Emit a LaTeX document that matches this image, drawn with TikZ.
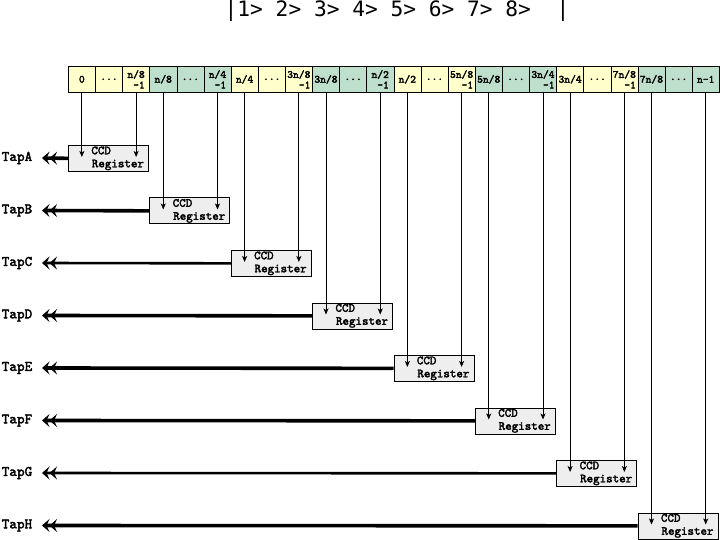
\documentclass[tikz,border=0pt]{standalone}
\usepackage{fontspec}
\newfontfamily\dmono{DejaVu Sans Mono}
\newfontfamily\lmb{lmmono10-regular}[Extension=.otf,FakeBold=2.5]
\usetikzlibrary{arrows.meta,calc}
\definecolor{cy}{HTML}{FFFFCC}
\definecolor{cg}{HTML}{BEDFCC}
\definecolor{boxgray}{HTML}{EEEEEE}
\begin{document}
\begin{tikzpicture}[x=1pt,y=-1pt,
  cell/.style={draw=black,line width=0.6pt,minimum width=27.125pt,minimum height=26pt,
    inner sep=0pt,anchor=north west,align=right,
    font=\lmb\fontsize{11}{10.5}\selectfont},
  reg/.style={draw=black,line width=0.7pt,fill=boxgray,minimum width=80pt,minimum height=26pt,
    inner xsep=0pt,inner ysep=0pt,text width=80pt,align=left,anchor=north west,
    font=\lmb\fontsize{12.4}{13}\selectfont},
  taplabel/.style={font=\lmb\fontsize{14.5}{15}\selectfont,inner sep=0pt},
  feed/.style={line width=0.8pt,-{Stealth[length=6pt,width=5pt,inset=1.5pt]}},
  tapline/.style={-{Stealth[length=7.5pt,width=13pt,inset=3pt]Stealth[length=7.5pt,width=13pt,inset=3pt]}},
  titlestyle/.style={font=\dmono\fontsize{21.2}{24}\selectfont,inner sep=0pt}
]
\useasboundingbox (0,0) rectangle (720,540);
\node[titlestyle] (title) at (397,11) {|1>~2>~3>~4>~5>~6>~7>~8>~~|};
% cells
\node[cell,fill=cy] (c0) at (68,66) {0};
\node[cell,fill=cy] (c1) at (95.125,66) {...};
\node[cell,fill=cy] (c2) at (122.25,66) {n/8\\-1};
\node[cell,fill=cg] (c3) at (149.375,66) {n/8};
\node[cell,fill=cg] (c4) at (176.5,66) {...};
\node[cell,fill=cg] (c5) at (203.625,66) {n/4\\-1};
\node[cell,fill=cy] (c6) at (230.75,66) {n/4};
\node[cell,fill=cy] (c7) at (257.875,66) {...};
\node[cell,fill=cy] (c8) at (285,66) {3n/8\\-1};
\node[cell,fill=cg] (c9) at (312.125,66) {3n/8};
\node[cell,fill=cg] (c10) at (339.25,66) {...};
\node[cell,fill=cg] (c11) at (366.375,66) {n/2\\-1};
\node[cell,fill=cy] (c12) at (393.5,66) {n/2};
\node[cell,fill=cy] (c13) at (420.625,66) {...};
\node[cell,fill=cy] (c14) at (447.75,66) {5n/8\\-1};
\node[cell,fill=cg] (c15) at (474.875,66) {5n/8};
\node[cell,fill=cg] (c16) at (502,66) {...};
\node[cell,fill=cg] (c17) at (529.125,66) {3n/4\\-1};
\node[cell,fill=cy] (c18) at (556.25,66) {3n/4};
\node[cell,fill=cy] (c19) at (583.375,66) {...};
\node[cell,fill=cy] (c20) at (610.5,66) {7n/8\\-1};
\node[cell,fill=cg] (c21) at (637.625,66) {7n/8};
\node[cell,fill=cg] (c22) at (664.75,66) {...};
\node[cell,fill=cg] (c23) at (691.875,66) {n-1};
% registers and taps
\foreach \i/\nm/\lw in {0/A/3.6,1/B/3.6,2/C/2.6,3/D/3.6,4/E/3.6,5/F/3.6,6/G/2.6,7/H/3.6}{
  \pgfmathsetmacro\rx{68+81.375*\i}
  \pgfmathsetmacro\ry{145+52.5*\i}
  \pgfmathtruncatemacro\ka{3*\i}
  \pgfmathtruncatemacro\kb{3*\i+2}
  \node[reg] (r\i) at (\rx,\ry) {\hspace*{23pt}CCD\\\hspace*{23.5pt}Register};
  \node[taplabel] (t\i) at (17,{\ry+13}) {Tap\nm};
  \coordinate (e\i) at (42,{\ry+13});
  \coordinate (a\i) at ($(c\ka.south |- r\i.north)+(0,12)$);
  \coordinate (b\i) at ($(c\kb.south |- r\i.north)+(0,12)$);
  \draw[feed] (c\ka.south) -- (a\i);
  \draw[feed] (c\kb.south) -- (b\i);
  \draw[tapline,line width=\lw pt] (r\i.west) -- (e\i);
}
\end{tikzpicture}
\end{document}
